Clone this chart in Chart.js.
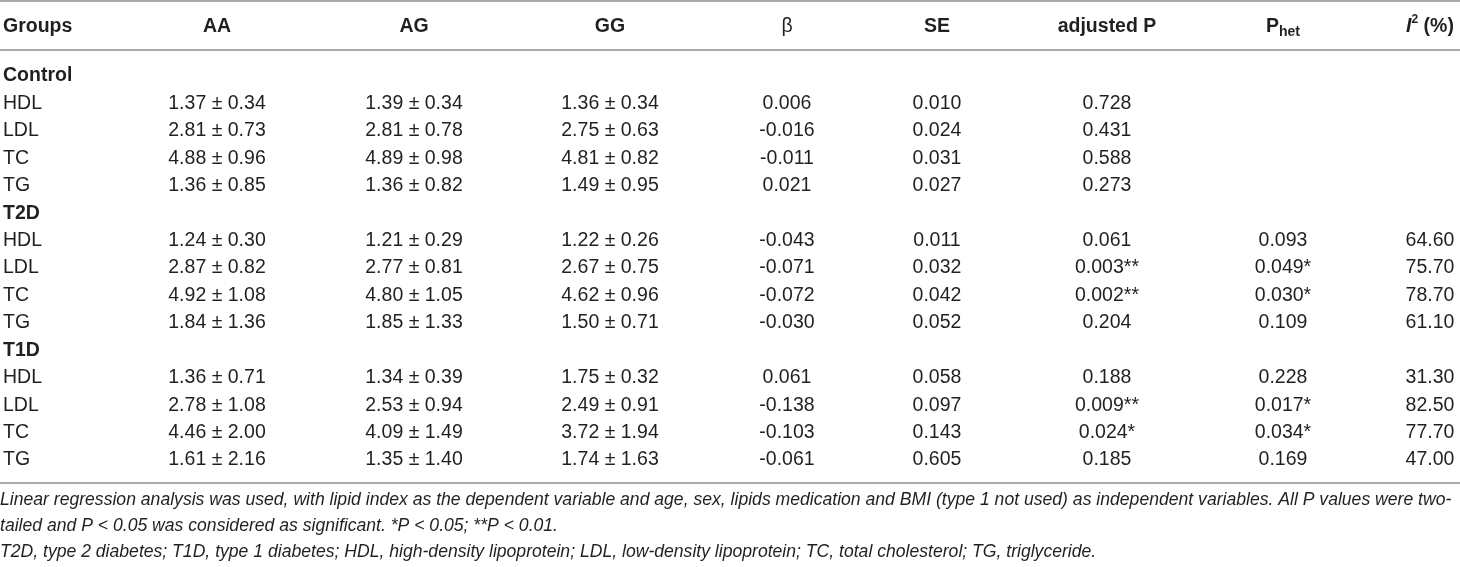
<!DOCTYPE html>
<html>
<head>
<meta charset="utf-8">
<script src="https://cdn.jsdelivr.net/npm/chart.js@4.4.1/dist/chart.umd.min.js"></script>
<style>
html, body { margin: 0; padding: 0; background: #fff; }
#wrap { width: 1460px; height: 567px; position: relative; }
</style>
</head>
<body>
<div id="wrap"><canvas id="tabla"></canvas></div>
<script>
// --- datos de la tabla ---
const groups = ['Control', 'T2D', 'T1D'];
const lipids = ['HDL', 'LDL', 'TC', 'TG'];
const headers = ['Groups', 'AA', 'AG', 'GG', 'β', 'SE', 'adjusted P', 'Phet', 'I2 (%)'];

// una fila por grupo x lipido (Control HDL..TG, T2D HDL..TG, T1D HDL..TG)
const aaMean = [1.37, 2.81, 4.88, 1.36, 1.24, 2.87, 4.92, 1.84, 1.36, 2.78, 4.46, 1.61];
const aaSd   = [0.34, 0.73, 0.96, 0.85, 0.30, 0.82, 1.08, 1.36, 0.71, 1.08, 2.00, 2.16];
const agMean = [1.39, 2.81, 4.89, 1.36, 1.21, 2.77, 4.80, 1.85, 1.34, 2.53, 4.09, 1.35];
const agSd   = [0.34, 0.78, 0.98, 0.82, 0.29, 0.81, 1.05, 1.33, 0.39, 0.94, 1.49, 1.40];
const ggMean = [1.36, 2.75, 4.81, 1.49, 1.22, 2.67, 4.62, 1.50, 1.75, 2.49, 3.72, 1.74];
const ggSd   = [0.34, 0.63, 0.82, 0.95, 0.26, 0.75, 0.96, 0.71, 0.32, 0.91, 1.94, 1.63];
const beta   = [0.006, -0.016, -0.011, 0.021, -0.043, -0.071, -0.072, -0.030, 0.061, -0.138, -0.103, -0.061];
const se     = [0.010, 0.024, 0.031, 0.027, 0.011, 0.032, 0.042, 0.052, 0.058, 0.097, 0.143, 0.605];
const adjP   = [0.728, 0.431, 0.588, 0.273, 0.061, 0.003, 0.002, 0.204, 0.188, 0.009, 0.024, 0.185];
const pHet   = [null, null, null, null, 0.093, 0.049, 0.030, 0.109, 0.228, 0.017, 0.034, 0.169];
const i2     = [null, null, null, null, 64.60, 75.70, 78.70, 61.10, 31.30, 82.50, 77.70, 47.00];

const footnotes = [
    'Linear regression analysis was used, with lipid index as the dependent variable and age, sex, lipids medication and BMI (type 1 not used) as independent variables. All P values were two-',
    'tailed and P < 0.05 was considered as significant. *P < 0.05; **P < 0.01.',
    'T2D, type 2 diabetes; T1D, type 1 diabetes; HDL, high-density lipoprotein; LDL, low-density lipoprotein; TC, total cholesterol; TG, triglyceride.'
];

// --- maquetacion (posiciones, no datos) ---
const colX = [3, 217, 414, 610, 787, 937, 1107, 1283, 1430];
const headerRow = -1.786;
const ruleRows = [-2.734, -0.948, 14.84];
const noteRows = [15.45, 16.40, 17.35];
const FONT = '"Liberation Sans", Arial, Helvetica, sans-serif';
const TXT = '#231f20';

function stars(p) {
    if (p === null) return '';
    const t = p.toFixed(3);
    if (p < 0.01) return t + '**';
    if (p < 0.05) return t + '*';
    return t;
}
function pm(m, s) { return m.toFixed(2) + ' ± ' + s.toFixed(2); }

// construir filas: cabecera de grupo + 4 lipidos
const rowLabels = [], rowBold = [], rowIdx = [];
groups.forEach((g, gi) => {
    rowLabels.push(g); rowBold.push(true); rowIdx.push(null);
    lipids.forEach((l, li) => {
        rowLabels.push(l); rowBold.push(false); rowIdx.push(gi * 4 + li);
    });
});

const colFmt = [
    null,
    i => pm(aaMean[i], aaSd[i]),
    i => pm(agMean[i], agSd[i]),
    i => pm(ggMean[i], ggSd[i]),
    i => beta[i].toFixed(3),
    i => se[i].toFixed(3),
    i => stars(adjP[i]),
    i => stars(pHet[i]),
    i => i2[i] === null ? '' : i2[i].toFixed(2)
];

const datasets = [];
// columna de grupos
datasets.push({
    kind: 'cell', align: 'left',
    texts: rowLabels, bolds: rowBold,
    data: rowLabels.map((_, k) => ({ x: colX[0], y: k }))
});
for (let c = 1; c < colFmt.length; c++) {
    const texts = rowIdx.map(i => i === null ? '' : colFmt[c](i));
    datasets.push({
        kind: 'cell', align: 'center',
        texts: texts, bolds: texts.map(() => false),
        data: texts.map((_, k) => ({ x: colX[c], y: k }))
    });
}
// cabeceras
datasets.push({
    kind: 'header',
    texts: headers,
    data: headers.map((_, c) => ({ x: colX[c], y: headerRow }))
});
// notas al pie
datasets.push({
    kind: 'note',
    texts: footnotes,
    data: footnotes.map((_, n) => ({ x: 0, y: noteRows[n] }))
});
datasets.forEach(d => { d.pointRadius = 0; d.pointHoverRadius = 0; d.showLine = false; });

function headerParts(label) {
    if (label === 'Phet') return [{ t: 'P', f: 'bold 19.5px ' }, { t: 'het', f: 'bold 14px ', dy: 5 }];
    if (label === 'I2 (%)') return [{ t: 'I', f: 'italic bold 19.5px ' }, { t: '2', f: 'bold 12px ', dy: -7 }, { t: ' (%)', f: 'bold 19.5px ' }];
    if (label === 'β') return [{ t: 'β', f: '19.5px ' }];
    return [{ t: label, f: 'bold 19.5px ' }];
}

const textPlugin = {
    id: 'textoCeldas',
    afterDatasetsDraw(chart) {
        const ctx = chart.ctx;
        ctx.save();
        ctx.fillStyle = TXT;
        ctx.textBaseline = 'middle';
        chart.data.datasets.forEach((ds, di) => {
            const meta = chart.getDatasetMeta(di);
            meta.data.forEach((el, j) => {
                const txt = ds.texts[j];
                if (!txt) return;
                if (ds.kind === 'cell') {
                    ctx.font = (ds.bolds[j] ? 'bold ' : '') + '19.5px ' + FONT;
                    ctx.textAlign = ds.align;
                    ctx.fillText(txt, el.x, el.y);
                } else if (ds.kind === 'note') {
                    ctx.font = 'italic 17.6px ' + FONT;
                    ctx.textAlign = 'left';
                    ctx.fillText(txt, el.x, el.y);
                } else {
                    const parts = headerParts(txt);
                    let w = 0;
                    parts.forEach(p => { ctx.font = p.f + FONT; p.w = ctx.measureText(p.t).width; w += p.w; });
                    let x = j === 0 ? el.x : el.x - w / 2;
                    ctx.textAlign = 'left';
                    parts.forEach(p => {
                        ctx.font = p.f + FONT;
                        ctx.fillText(p.t, x, el.y + (p.dy || 0));
                        x += p.w;
                    });
                }
            });
        });
        ctx.restore();
    }
};

new Chart(document.getElementById('tabla').getContext('2d'), {
    type: 'scatter',
    data: { datasets: datasets },
    options: {
        responsive: true,
        maintainAspectRatio: false,
        animation: false,
        events: [],
        layout: { padding: 0 },
        plugins: { legend: { display: false }, tooltip: { enabled: false } },
        scales: {
            x: { type: 'linear', min: 0, max: 1460, display: false },
            y: {
                type: 'linear',
                reverse: true,
                min: -2.771,
                max: 17.90,
                afterBuildTicks: s => { s.ticks = ruleRows.map(v => ({ value: v })); },
                afterFit: s => { s.width = 0; },
                ticks: { display: false },
                border: { display: false },
                grid: { color: '#a9a9a9', lineWidth: 2, drawTicks: false }
            }
        }
    },
    plugins: [textPlugin]
});
</script>
</body>
</html>
